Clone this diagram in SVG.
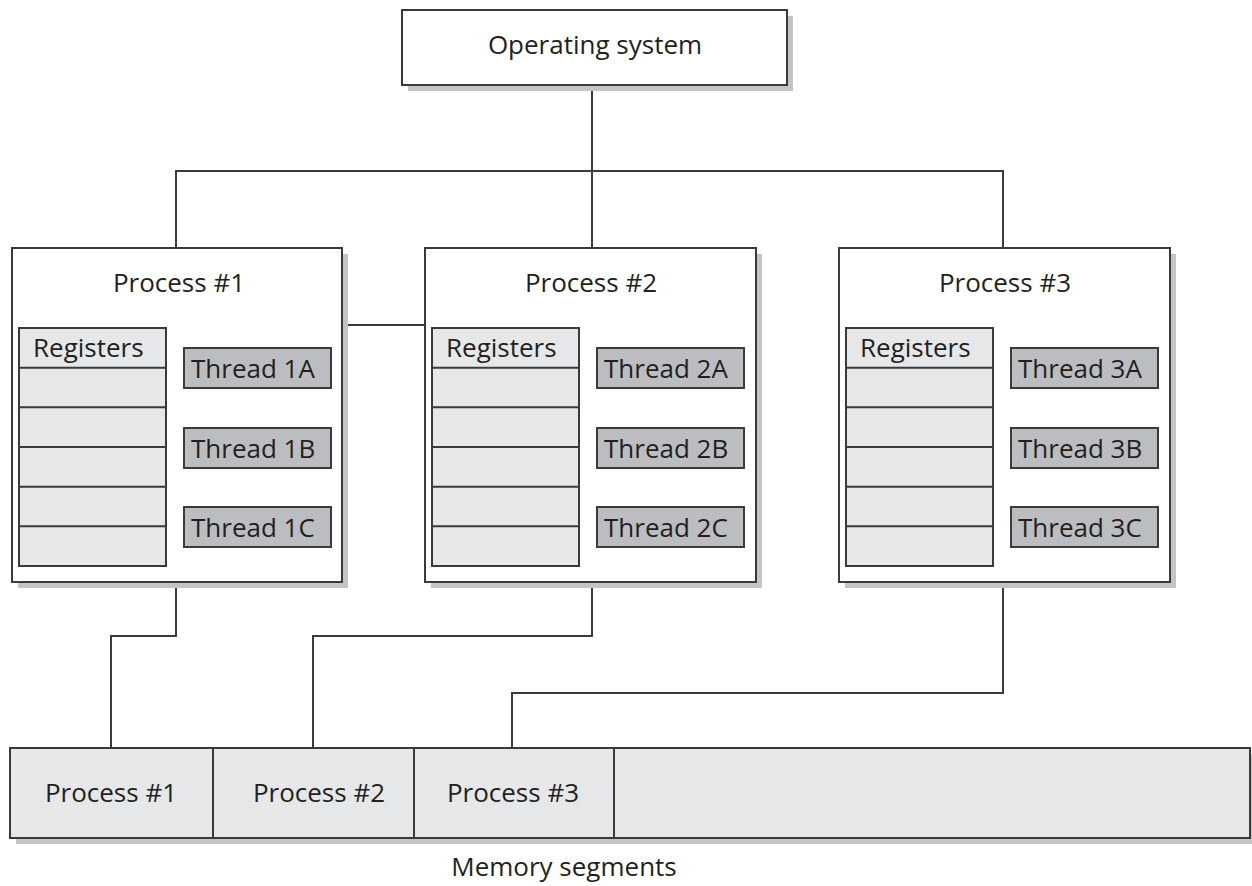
<svg xmlns="http://www.w3.org/2000/svg" width="1252" height="886" viewBox="0 0 1252 886">
<style>
  .box { fill: #ffffff; stroke: #3a3a3a; stroke-width: 2; }
  .shadow { fill: #c4c4c4; }
  .reg { fill: #e6e7e8; stroke: #3a3a3a; stroke-width: 2; }
  .thr { fill: #bcbdc0; stroke: #3a3a3a; stroke-width: 2; }
  .line { fill: none; stroke: #3a3a3a; stroke-width: 2; }
  text { font-family: "Open Sans", "Noto Sans", sans-serif; font-size: 26px; fill: #231f20; }
  .c { text-anchor: middle; }
</style>
<defs>
  <g id="proc-inner">
    <rect class="reg" x="7" y="80" width="147" height="238"/>
    <path class="line" d="M7 119.7 H154 M7 159.3 H154 M7 199 H154 M7 238.7 H154 M7 278.3 H154"/>
    <text x="21" y="109">Registers</text>
  </g>
</defs>

<g id="connectors">
  <path class="line" d="M592 85 V248"/>
  <path class="line" d="M176 248 V171 H1003 V248"/>
  <path class="line" d="M348 325 H425"/>
  <path class="line" d="M176 582 V636 H111 V748"/>
  <path class="line" d="M592 582 V636 H313 V748"/>
  <path class="line" d="M1003 582 V693 H512 V748"/>
</g>

<g id="os">
  <rect class="shadow" x="408" y="16" width="385" height="75"/>
  <rect class="box" x="402" y="10" width="385" height="75"/>
  <text class="c" x="595" y="54">Operating system</text>
</g>

<g id="process1">
  <rect class="shadow" x="18" y="254" width="330" height="334"/>
  <rect class="box" x="12" y="248" width="330" height="334"/>
  <text class="c" x="179" y="292">Process #1</text>
  <use href="#proc-inner" x="12" y="248"/>
  <rect class="thr" x="184" y="348" width="147" height="40"/>
  <text x="191" y="378">Thread 1A</text>
  <rect class="thr" x="184" y="428" width="147" height="40"/>
  <text x="191" y="458">Thread 1B</text>
  <rect class="thr" x="184" y="507" width="147" height="40"/>
  <text x="191" y="537">Thread 1C</text>
</g>

<g id="process2">
  <rect class="shadow" x="431" y="254" width="331" height="334"/>
  <rect class="box" x="425" y="248" width="331" height="334"/>
  <text class="c" x="591" y="292">Process #2</text>
  <use href="#proc-inner" x="425" y="248"/>
  <rect class="thr" x="597" y="348" width="147" height="40"/>
  <text x="604" y="378">Thread 2A</text>
  <rect class="thr" x="597" y="428" width="147" height="40"/>
  <text x="604" y="458">Thread 2B</text>
  <rect class="thr" x="597" y="507" width="147" height="40"/>
  <text x="604" y="537">Thread 2C</text>
</g>

<g id="process3">
  <rect class="shadow" x="845" y="254" width="331" height="334"/>
  <rect class="box" x="839" y="248" width="331" height="334"/>
  <text class="c" x="1005" y="292">Process #3</text>
  <use href="#proc-inner" x="839" y="248"/>
  <rect class="thr" x="1011" y="348" width="147" height="40"/>
  <text x="1018" y="378">Thread 3A</text>
  <rect class="thr" x="1011" y="428" width="147" height="40"/>
  <text x="1018" y="458">Thread 3B</text>
  <rect class="thr" x="1011" y="507" width="147" height="40"/>
  <text x="1018" y="537">Thread 3C</text>
</g>

<g id="memory">
  <rect class="shadow" x="16" y="754" width="1240" height="90"/>
  <rect class="reg" x="10" y="748" width="1240" height="90"/>
  <path class="line" d="M213 748 V838 M414 748 V838 M614 748 V838"/>
  <text class="c" x="111" y="802">Process #1</text>
  <text class="c" x="319" y="802">Process #2</text>
  <text class="c" x="513" y="802">Process #3</text>
  <text class="c" x="564" y="876">Memory segments</text>
</g>
</svg>
